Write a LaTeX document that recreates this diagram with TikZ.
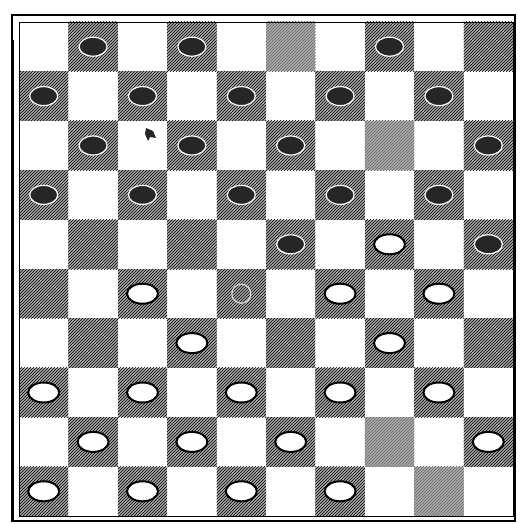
\documentclass[tikz,border=0pt]{standalone}
\usetikzlibrary{patterns,shapes.geometric}
\begin{document}
\begin{tikzpicture}[x=1pt,y=-1pt,
  darksq/.style={fill=gray!70},
  hatch/.style={pattern=north east lines, pattern color=black},
  palesq/.style={fill=gray!65},
  blackman/.style={ellipse, draw=white, line width=1.2pt, fill=black!85, minimum width=28pt, minimum height=19pt, inner sep=0pt},
  whiteman/.style={ellipse, draw=black, line width=2pt, fill=white, minimum width=31pt, minimum height=20pt, inner sep=0pt},
  ghost/.style={circle, draw=white!85!black, line width=1.2pt, minimum size=19pt, inner sep=0pt}]
\fill[white] (0,0) rectangle (519,524);
\useasboundingbox (0,0) rectangle (519,524);
\def\s{49.4}
\foreach \r in {0,...,9} {
  \foreach \c in {0,...,9} {
    \pgfmathtruncatemacro\odd{mod(\r+\c,2)}
    \ifnum\odd=1
      \fill[darksq] ({19+\c*\s},{22+\r*\s}) rectangle ++(\s,\s);
      \fill[hatch] ({19+\c*\s},{22+\r*\s}) rectangle ++(\s,\s);
    \fi
  }
}
% paler empty dark squares
\foreach \r/\c in {0/5,2/7,8/7,9/8} {
  \fill[white] ({19+\c*\s},{22+\r*\s}) rectangle ++(\s,\s);
  \fill[palesq] ({19+\c*\s},{22+\r*\s}) rectangle ++(\s,\s);
  \fill[pattern=north east lines, pattern color=black!60] ({19+\c*\s},{22+\r*\s}) rectangle ++(\s,\s);
}
% frame
\draw[line width=1.5pt] (12,15) rectangle (515,521);
\draw[line width=0.8pt] (19,22) rectangle (513,516);
\draw[line width=3pt] (12,40) -- (12,521);
% black men
\foreach \r/\c in {0/1,0/3,0/7,1/0,1/2,1/4,1/6,1/8,2/1,2/3,2/5,2/9,3/0,3/2,3/4,3/6,3/8,4/5,4/9}
  \node[blackman] (b-\r-\c) at ({19+(\c+0.5)*\s},{22+(\r+0.5)*\s}) {};
% white men
\foreach \r/\c in {4/7,5/2,5/6,5/8,6/3,6/7,7/0,7/2,7/4,7/6,7/8,8/1,8/3,8/5,8/9,9/0,9/2,9/4,9/6}
  \node[whiteman] (w-\r-\c) at ({19+(\c+0.5)*\s},{22+(\r+0.5)*\s}) {};
% ghost of the moved man
\node[ghost] (g-5-4) at ({19+4.5*\s},{22+5.5*\s}) {};
% small mark
\fill[black!85] (146,128) -- (153,131) -- (156,138) -- (150,137) -- (148,141) -- (145,134) -- cycle;
\end{tikzpicture}
\end{document}
